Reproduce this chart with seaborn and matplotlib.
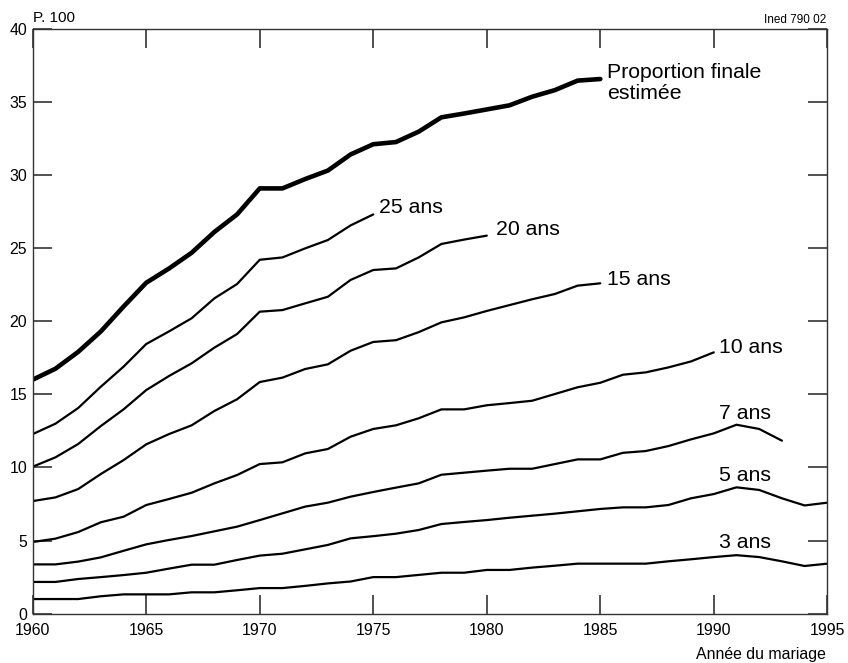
import numpy as np
import pandas as pd
import seaborn as sns
import matplotlib
matplotlib.use("Agg")
import matplotlib.pyplot as plt

# ---- data ----
start_year = 1960
finale = [16.0, 16.75, 17.9, 19.3, 21.0, 22.63, 23.6, 24.68, 26.1, 27.3,
          29.08, 29.08, 29.72, 30.3, 31.4, 32.1, 32.25, 32.96, 33.94, 34.2,
          34.48, 34.76, 35.35, 35.8, 36.45, 36.56]
ans25 = [12.28, 12.99, 14.06, 15.52, 16.89, 18.44, 19.3, 20.2, 21.56, 22.54,
         24.2, 24.36, 24.98, 25.55, 26.55, 27.3]
ans20 = [10.05, 10.69, 11.6, 12.83, 13.97, 15.29, 16.25, 17.12, 18.19, 19.12,
         20.65, 20.76, 21.22, 21.67, 22.82, 23.5, 23.61, 24.36, 25.28, 25.58,
         25.85]
ans15 = [7.7, 7.95, 8.52, 9.55, 10.5, 11.58, 12.28, 12.88, 13.86, 14.66,
         15.84, 16.14, 16.73, 17.05, 17.98, 18.58, 18.7, 19.25, 19.92, 20.26,
         20.7, 21.1, 21.5, 21.86, 22.43, 22.59]
ans10 = [4.9, 5.13, 5.58, 6.25, 6.63, 7.43, 7.84, 8.27, 8.91, 9.48,
         10.23, 10.35, 10.96, 11.26, 12.1, 12.63, 12.88, 13.36, 13.97, 13.97,
         14.25, 14.4, 14.56, 15.02, 15.48, 15.79, 16.34, 16.5, 16.84, 17.25,
         17.87]
ans7 = [3.37, 3.37, 3.56, 3.85, 4.3, 4.74, 5.04, 5.31, 5.63, 5.95,
        6.4, 6.86, 7.32, 7.59, 8.0, 8.32, 8.62, 8.91, 9.5, 9.64,
        9.78, 9.91, 9.91, 10.23, 10.55, 10.55, 11.0, 11.12, 11.46, 11.92,
        12.33, 12.92, 12.63, 11.83]
ans5 = [2.17, 2.17, 2.37, 2.5, 2.64, 2.8, 3.08, 3.35, 3.35, 3.67,
        3.97, 4.1, 4.4, 4.7, 5.15, 5.3, 5.47, 5.72, 6.13, 6.27,
        6.4, 6.56, 6.7, 6.84, 7.0, 7.16, 7.27, 7.27, 7.43, 7.89,
        8.18, 8.64, 8.46, 7.89, 7.4, 7.59]
ans3 = [1.0, 1.0, 1.0, 1.19, 1.32, 1.32, 1.32, 1.46, 1.46, 1.6,
        1.75, 1.75, 1.9, 2.07, 2.2, 2.5, 2.5, 2.65, 2.8, 2.8,
        2.99, 2.99, 3.15, 3.28, 3.42, 3.42, 3.42, 3.42, 3.58, 3.72,
        3.87, 4.0, 3.87, 3.58, 3.26, 3.42]

series_names = ["Proportion finale estimée", "25 ans", "20 ans", "15 ans",
                "10 ans", "7 ans", "5 ans", "3 ans"]
series_values = [finale, ans25, ans20, ans15, ans10, ans7, ans5, ans3]

x_ticks = [1960, 1965, 1970, 1975, 1980, 1985, 1990, 1995]
y_ticks = [0, 5, 10, 15, 20, 25, 30, 35, 40]

# ---- build a long table ----
rows = []
for name, vals in zip(series_names, series_values):
    for i, v in enumerate(vals):
        rows.append({"annee": start_year + i, "valeur": v, "serie": name})
df = pd.DataFrame(rows)

sns.set_theme(style="ticks")
plt.rcParams["font.family"] = ["Liberation Sans", "DejaVu Sans"]
plt.rcParams["text.color"] = "black"
plt.rcParams["xtick.color"] = "black"
plt.rcParams["ytick.color"] = "black"

fig = plt.figure(figsize=(8.48, 6.63), dpi=100)
ax = fig.add_axes([0.0386, 0.0744, 0.937, 0.8823])

for name in series_names:
    sub = df[df["serie"] == name]
    lw = 3.3 if name.startswith("Proportion") else 1.6
    sns.lineplot(data=sub, x="annee", y="valeur", ax=ax, color="black",
                 linewidth=lw, estimator=None, sort=True, legend=False)

ax.set_xlim(1960, 1995)
ax.set_ylim(0, 40)
ax.set_xticks(x_ticks)
ax.set_yticks(y_ticks)
ax.set_xticklabels([str(t) for t in x_ticks])
ax.set_yticklabels([str(t) for t in y_ticks])
ax.set_xlabel("")
ax.set_ylabel("")

for side in ["left", "right", "top", "bottom"]:
    ax.spines[side].set_visible(True)
    ax.spines[side].set_linewidth(1.0)
    ax.spines[side].set_color("#333333")

ax.tick_params(axis="both", which="major", direction="in", length=14,
               width=1.1, color="#222222", top=True, right=True,
               labelsize=11.4, labelcolor="black")
ax.tick_params(axis="x", pad=7)
ax.tick_params(axis="y", pad=4)

# ---- annotations ----
lab_fs = 15.3
ax.text(1985.3, 36.63, "Proportion finale", fontsize=lab_fs, ha="left",
        va="baseline", color="black")
ax.text(1985.3, 35.2, "estimée", fontsize=lab_fs, ha="left", va="baseline",
        color="black")
ax.text(1975.25, 27.4, "25 ans", fontsize=lab_fs, ha="left", va="baseline",
        color="black")
ax.text(1980.41, 25.89, "20 ans", fontsize=lab_fs, ha="left", va="baseline",
        color="black")
ax.text(1985.3, 22.48, "15 ans", fontsize=lab_fs, ha="left", va="baseline",
        color="black")
ax.text(1990.23, 17.83, "10 ans", fontsize=lab_fs, ha="left", va="baseline",
        color="black")
ax.text(1990.23, 13.31, "7 ans", fontsize=lab_fs, ha="left", va="baseline",
        color="black")
ax.text(1990.23, 9.07, "5 ans", fontsize=lab_fs, ha="left", va="baseline",
        color="black")
ax.text(1990.23, 4.51, "3 ans", fontsize=lab_fs, ha="left", va="baseline",
        color="black")

fig.text(33 / 848, 1 - 22 / 663, "P. 100", fontsize=11, ha="left",
         va="baseline", color="black")
fig.text(826 / 848, 1 - 23 / 663, "Ined 790 02", fontsize=8.5, ha="right",
         va="baseline", color="black")
fig.text(826 / 848, 1 - 659 / 663, "Année du mariage", fontsize=11.4,
         ha="right", va="baseline", color="black")

fig.savefig("out.png", dpi=100)
